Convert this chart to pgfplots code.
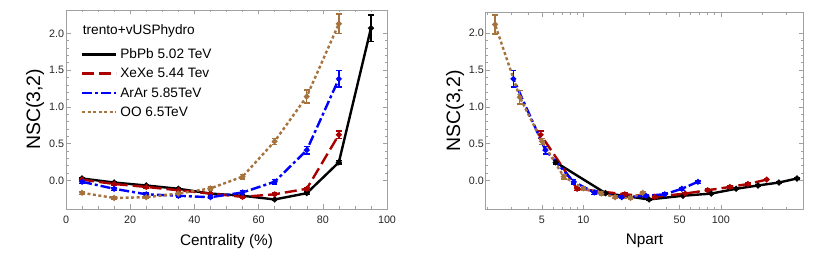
\documentclass[border=0pt]{standalone}
\usepackage{pgfplots}
\pgfplotsset{compat=1.18}
\usepackage{fontspec}
\setmainfont{Liberation Sans}
\definecolor{cred}{RGB}{170,0,0}
\definecolor{cblue}{RGB}{0,0,255}
\definecolor{cbrown}{RGB}{166,115,62}
\definecolor{frame}{RGB}{160,160,160}
\begin{document}
\begin{tikzpicture}
\useasboundingbox (0,0) rectangle (830bp,260bp);
\pgfplotsset{
  mystyle/.style={
    scale only axis,
    anchor=south west,
    axis line style={frame, line width=0.6bp},
    every tick/.style={frame, line width=0.5bp},
    major tick length=4.5bp, minor tick length=2.5bp,
    tick align=inside,
    ymin=-0.39,
    ytick={0,0.5,1,1.5,2},
    minor y tick num=4,
    yticklabel style={/pgf/number format/.cd, fixed, fixed zerofill, precision=1, /tikz/.cd, xshift=1.6bp},
    xticklabel style={yshift=-3.5bp},
    tick label style={font=\fontsize{10.8}{12}\selectfont, color=black!85},
    /pgf/number format/assume math mode=true,
    ylabel={NSC(3,2)},
    ylabel style={font=\fontsize{19.5}{22}\selectfont, at={(axis description cs:-0.0966,0.5)}, anchor=center, rotate=0},
    xlabel style={font=\fontsize{15.4}{17}\selectfont, anchor=base},
    errstyle/.style={error bars/.cd, y dir=both, y explicit, error mark=-, error bar style={solid, line width=1.4bp}, error mark options={solid, rotate=90, line width=1.4bp, mark size=2.8bp}},
    pbstyle/.style={black, line width=2.4bp, solid, mark=*, mark size=1.6bp, mark options={solid}},
    xestyle/.style={cred, line width=2.4bp, dash pattern=on 12bp off 5bp, mark=*, mark size=1.5bp, mark options={solid}},
    arstyle/.style={cblue, line width=2.4bp, dash pattern=on 10bp off 3bp on 3bp off 3bp, mark=*, mark size=1.5bp, mark options={solid}},
    oostyle/.style={cbrown, line width=2.4bp, dash pattern=on 3bp off 2.5bp, mark=*, mark size=1.5bp, mark options={solid}},
  }
}
\begin{axis}[mystyle,
  at={(66bp,51bp)}, width=321bp, height=199bp,
  xmin=0, xmax=100, ymax=2.317,
  xtick={0,20,40,60,80,100}, minor x tick num=3,
  xlabel={Centrality (\%)},
  xlabel style={at={(axis description cs:0.5,-0.181)}},
  legend cell align=left,
  legend image code/.code={\draw[#1, mark=none] (0bp,4.3bp) -- (34bp,4.3bp);},
  legend style={draw=none, fill=none, at={(axis description cs:0.0467,0.806)}, anchor=north west,
    font=\fontsize{13.7}{15}\selectfont, inner sep=0pt, outer sep=0pt, row sep=6.3bp, column sep=0pt,
    nodes={inner sep=0pt, outer sep=0pt, text height=10bp, text depth=3bp, anchor=base west},
    /tikz/every odd column/.append style={column sep=3bp}},
]
\addplot+[pbstyle, errstyle] table[x=x, y=y, y error=e] {
x y e
5 0.025 0.012
15 -0.03 0.012
25 -0.07 0.012
35 -0.115 0.012
45 -0.18 0.012
55 -0.21 0.012
65 -0.26 0.015
75 -0.175 0.015
85 0.245 0.025
95 2.07 0.18
};
\addlegendentry{PbPb 5.02 TeV}
\addplot+[xestyle, errstyle] table[x=x, y=y, y error=e] {
x y e
5 0.01 0.015
15 -0.05 0.015
25 -0.09 0.015
35 -0.135 0.015
45 -0.18 0.015
55 -0.225 0.015
65 -0.19 0.015
75 -0.115 0.02
85 0.62 0.05
};
\addlegendentry{XeXe 5.44 Tev}
\addplot+[arstyle, errstyle] table[x=x, y=y, y error=e] {
x y e
5 -0.02 0.02
15 -0.115 0.02
25 -0.19 0.02
35 -0.21 0.02
45 -0.23 0.02
55 -0.165 0.025
65 -0.02 0.03
75 0.41 0.05
85 1.38 0.11
};
\addlegendentry{ArAr 5.85TeV}
\addplot+[oostyle, errstyle] table[x=x, y=y, y error=e] {
x y e
5 -0.17 0.02
15 -0.24 0.02
25 -0.23 0.02
35 -0.18 0.02
45 -0.11 0.02
55 0.05 0.03
65 0.53 0.04
75 1.14 0.09
85 2.13 0.13
};
\addlegendentry{OO 6.5TeV}
\end{axis}
\node[anchor=base west, font=\fontsize{13.7}{15}\selectfont, inner sep=0pt] at (82.7bp,225bp) {trento+vUSPhydro};
\begin{axis}[mystyle,
  at={(485.7bp,51bp)}, width=317.6bp, height=196.3bp,
  xmode=log, xmin=1.95, xmax=397, ymax=2.28,
  log ticks with fixed point,
  xtick={5,10,50,100},
  minor xtick={2,3,4,6,7,8,9,20,30,40,60,70,80,90,200,300},
  xlabel={Npart},
  xlabel style={at={(axis description cs:0.5,-0.183)}},
  ylabel style={at={(axis description cs:-0.0967,0.5)}},
]
\addplot+[pbstyle, errstyle] table[x=x, y=y, y error=e] {
x y e
357 0.025 0.012
264 -0.03 0.012
186 -0.07 0.012
129 -0.115 0.012
85 -0.18 0.012
53 -0.21 0.012
30 -0.26 0.015
14.5 -0.175 0.015
6.3 0.245 0.025
};
\addplot+[xestyle, errstyle] table[x=x, y=y, y error=e] {
x y e
215 0.01 0.015
157 -0.05 0.015
116 -0.09 0.015
80 -0.135 0.015
55 -0.18 0.015
33 -0.225 0.015
20 -0.19 0.015
9 -0.115 0.02
4.9 0.62 0.05
};
\addplot+[arstyle, errstyle] table[x=x, y=y, y error=e] {
x y e
68 -0.02 0.02
52 -0.115 0.02
39 -0.19 0.02
28.5 -0.21 0.02
19 -0.23 0.02
12 -0.165 0.025
8.5 -0.02 0.03
5.3 0.41 0.05
3.1 1.38 0.11
};
\addplot+[oostyle, errstyle] table[x=x, y=y, y error=e] {
x y e
27 -0.17 0.02
22 -0.24 0.02
17 -0.23 0.02
13.5 -0.18 0.02
10 -0.11 0.02
7.2 0.05 0.03
5.0 0.53 0.04
3.45 1.13 0.09
2.28 2.12 0.13
};
\end{axis}
\end{tikzpicture}
\end{document}
